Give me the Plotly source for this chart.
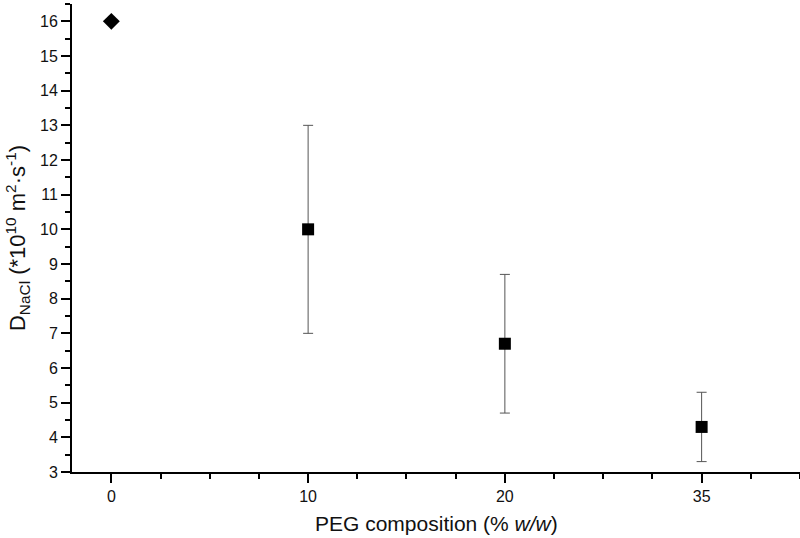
import plotly.graph_objects as go

categories = ["0", "10", "20", "35"]
positions = [1, 2, 3, 4]
values = [16.0, 10.0, 6.7, 4.3]
err_plus = [0.0, 3.0, 2.0, 1.0]
err_minus = [0.0, 3.0, 2.0, 1.0]

fig = go.Figure()
# first point: diamond, no error bar
fig.add_trace(go.Scatter(
    x=positions[:1], y=values[:1], mode="markers",
    marker=dict(symbol="diamond", size=13, color="black"),
    showlegend=False, cliponaxis=False))
fig.add_trace(go.Scatter(
    x=positions[1:], y=values[1:], mode="markers",
    marker=dict(symbol="square", size=12, color="black"),
    error_y=dict(type="data", symmetric=False, array=err_plus[1:], arrayminus=err_minus[1:],
                 color="#555555", thickness=1, width=5),
    showlegend=False, cliponaxis=False))

fig.update_layout(
    width=800, height=538,
    margin=dict(l=72, r=0, t=4, b=66, autoexpand=False),
    plot_bgcolor="white", paper_bgcolor="white",
    font=dict(family="Liberation Sans, Arial, sans-serif", size=16, color="#111111"),
    annotations=[dict(
        text="PEG composition (% <i>w/w</i>)", xref="paper", yref="paper",
        x=0.5, y=-0.109, xanchor="center", yanchor="middle", showarrow=False,
        font=dict(size=21, color="#111111"))],
)
fig.update_xaxes(
    range=[0.8, 4.5], tickmode="array", tickvals=positions, ticktext=categories,
    automargin=False,
    showgrid=False, zeroline=False, showline=True, linecolor="black", linewidth=2,
    ticks="outside", ticklen=9, tickwidth=1.5, tickcolor="black",
    minor=dict(dtick=0.25, tick0=0, ticks="outside", ticklen=5, tickwidth=1.5, tickcolor="black"),
    tickfont=dict(size=16),
)
fig.update_yaxes(
    range=[3, 16.5], dtick=1, tick0=0,
    automargin=False,
    showgrid=False, zeroline=False, showline=True, linecolor="black", linewidth=2,
    ticks="outside", ticklen=9, tickwidth=1.5, tickcolor="black",
    minor=dict(dtick=0.5, tick0=0, ticks="outside", ticklen=5, tickwidth=1.5, tickcolor="black"),
    title=dict(text="D<sub>NaCl</sub> (*10<sup>10</sup> m<sup>2</sup>·s<sup>-1</sup>)", font=dict(size=22), standoff=8),
    tickfont=dict(size=16),
)

fig.write_html("out.html", config={"displayModeBar": False},
               post_script="document.body.style.margin='0';")
